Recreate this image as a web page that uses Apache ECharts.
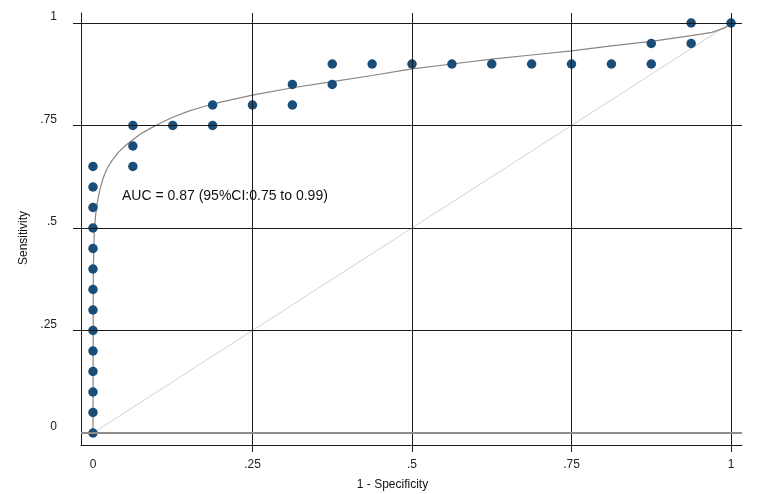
<!DOCTYPE html>
<html>
<head>
<meta charset="utf-8">
<script src="https://cdn.jsdelivr.net/npm/echarts@6/dist/echarts.min.js"></script>
<style>
  html, body { margin: 0; padding: 0; background: #fff; }
  #chart { width: 777px; height: 494px; }
</style>
</head>
<body>
<div id="chart"></div>
<script>
// Empirical ROC points (1 - specificity, sensitivity)
const pointX = [0, 0, 0, 0, 0, 0, 0, 0, 0, 0, 0, 0, 0, 0,
  0.0625, 0.0625, 0.0625, 0.125, 0.1875, 0.1875, 0.25, 0.3125, 0.3125,
  0.375, 0.375, 0.4375, 0.5, 0.5625, 0.625, 0.6875, 0.75, 0.8125,
  0.875, 0.875, 0.9375, 0.9375, 1];
const pointY = [0, 0.05, 0.1, 0.15, 0.2, 0.25, 0.3, 0.35, 0.4, 0.45, 0.5, 0.55, 0.6, 0.65,
  0.65, 0.7, 0.75, 0.75, 0.75, 0.8, 0.8, 0.8, 0.85,
  0.85, 0.9, 0.9, 0.9, 0.9, 0.9, 0.9, 0.9, 0.9,
  0.9, 0.95, 0.95, 1, 1];

// Fitted (smooth) ROC curve
const fitX = [0, 0.0005, 0.002, 0.004, 0.007, 0.011, 0.016, 0.022, 0.03, 0.04, 0.05,
  0.0625, 0.075, 0.09, 0.106, 0.125, 0.15, 0.175, 0.2, 0.25, 0.3125, 0.375, 0.4375,
  0.5, 0.5625, 0.625, 0.6875, 0.75, 0.8125, 0.875, 0.9375, 0.97, 0.99, 1];
const fitY = [0, 0.40, 0.49, 0.53, 0.565, 0.595, 0.622, 0.645, 0.665, 0.685, 0.70,
  0.715, 0.73, 0.743, 0.756, 0.77, 0.785, 0.797, 0.807, 0.824, 0.842, 0.857, 0.872,
  0.888, 0.90, 0.912, 0.922, 0.932, 0.944, 0.955, 0.969, 0.977, 0.988, 1];

// Reference diagonal
const diagX = [0, 1];
const diagY = [0, 1];

// Ticks
const tickValues = [0, 0.25, 0.5, 0.75, 1];
const gridValues = [0.25, 0.5, 0.75, 1];
const tickLabels = ['0', '.25', '.5', '.75', '1'];

const aucText = 'AUC = 0.87 (95%CI:0.75 to 0.99)';

const font = 'Liberation Sans, Arial, Helvetica, sans-serif';
const fmt = v => tickLabels[tickValues.indexOf(Math.round(v * 100) / 100)] || '';

const chart = echarts.init(document.getElementById('chart'));

const gridLines = [];
gridValues.forEach(v => {
  gridLines.push({ yAxis: v, lineStyle: { color: '#1a1a1a', width: 1, type: 'solid' } });
  gridLines.push({ xAxis: v, lineStyle: { color: '#1a1a1a', width: 1, type: 'solid' } });
});
gridLines.push({ yAxis: 0, lineStyle: { color: '#8e8e8e', width: 2, type: 'solid' } });

chart.setOption({
  animation: false,
  backgroundColor: '#fff',
  textStyle: { fontFamily: font },
  title: {
    text: aucText,
    left: 117,
    top: 184,
    textStyle: { fontSize: 14, fontWeight: 'normal', color: '#111', fontFamily: font }
  },
  grid: { left: 81, right: 35, top: 13, bottom: 49, outerBoundsMode: 'none', containLabel: false },
  xAxis: {
    type: 'value',
    min: -0.0188,
    max: 1.0172,
    name: '1 - Specificity',
    nameLocation: 'middle',
    nameGap: 34,
    nameTextStyle: { fontSize: 12, color: '#111', padding: [0, 38, 0, 0], verticalAlign: 'top' },
    axisLine: { show: true, onZero: false, lineStyle: { color: '#1a1a1a', width: 1 } },
    axisTick: { show: true, inside: false, length: 7, customValues: gridValues, lineStyle: { color: '#1a1a1a' } },
    axisLabel: { customValues: tickValues, formatter: fmt, margin: 14, fontSize: 12, color: '#222' },
    splitLine: { show: false }
  },
  yAxis: [{
    type: 'value',
    min: -0.0293,
    max: 1.0244,
    name: 'Sensitivity',
    nameLocation: 'middle',
    nameGap: 51,
    nameRotate: 90,
    nameTextStyle: { fontSize: 12, color: '#111', padding: [0, 18, 0, 0], align: 'center' },
    axisLine: { show: true, onZero: false, lineStyle: { color: '#1a1a1a', width: 1 } },
    axisTick: { show: true, inside: false, length: 8, customValues: gridValues, lineStyle: { color: '#1a1a1a' } },
    axisLabel: { customValues: tickValues, formatter: fmt, margin: 24, fontSize: 12, color: '#222', verticalAlign: 'bottom', lineHeight: 12 },
    splitLine: { show: false }
  }, {
    type: 'value',
    min: -0.0293,
    max: 1.0244,
    position: 'left',
    axisLine: { show: false },
    axisTick: { show: true, length: 8, customValues: [0], lineStyle: { color: '#8e8e8e', width: 2 } },
    axisLabel: { show: false },
    splitLine: { show: false }
  }],
  series: [
    {
      name: 'grid',
      type: 'line',
      data: [],
      z: 1,
      silent: true,
      markLine: {
        silent: true,
        symbol: ['none', 'none'],
        label: { show: false },
        data: gridLines
      }
    },
    {
      name: 'Reference',
      type: 'line',
      data: diagX.map((x, i) => [x, diagY[i]]),
      showSymbol: false,
      lineStyle: { color: '#d2d2d2', width: 1 },
      z: 2
    },
    {
      name: 'Fitted ROC',
      type: 'line',
      data: fitX.map((x, i) => [x, fitY[i]]),
      showSymbol: false,
      smooth: false,
      lineStyle: { color: '#8b8682', width: 1.2 },
      z: 3
    },
    {
      name: 'Empirical',
      type: 'scatter',
      data: pointX.map((x, i) => [x, pointY[i]]),
      symbol: 'circle',
      symbolSize: 9.5,
      itemStyle: { color: '#1a4d78', opacity: 1 },
      z: 4
    }
  ]
});
</script>
</body>
</html>
